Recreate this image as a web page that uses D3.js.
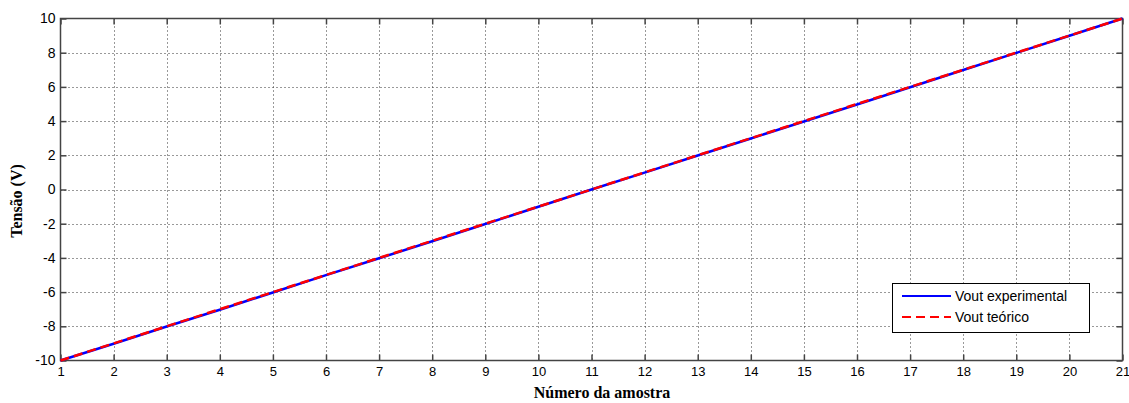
<!DOCTYPE html>
<html>
<head>
<meta charset="utf-8">
<script src="https://cdn.jsdelivr.net/npm/d3@7"></script>
<style>
  body { margin: 0; background: #fff; }
  svg { display: block; }
  .tick text { font-family: "Liberation Sans", Arial, sans-serif; font-size: 13px; fill: #000; }
</style>
</head>
<body>
<svg id="chart" width="1129" height="403"></svg>
<script>
// Sample indices and measured / theoretical output voltages
const amostras = d3.range(1, 22);
const voutExperimental = [-10, -9.02, -8.01, -7.03, -6.02, -5.01, -4.02, -3.03, -2.02, -1.01, 0,
                          0.99, 1.99, 2.98, 3.98, 4.97, 5.98, 6.99, 7.99, 8.99, 10];
const voutTeorico = [-10, -9, -8, -7, -6, -5, -4, -3, -2, -1, 0, 1, 2, 3, 4, 5, 6, 7, 8, 9, 10];
const xTicks = d3.range(1, 22);
const yTicks = [-10, -8, -6, -4, -2, 0, 2, 4, 6, 8, 10];
const legendLabels = ["Vout experimental", "Vout teórico"];

const svg = d3.select("#chart");
const m = { left: 60.5, right: 1122.5, top: 18.5, bottom: 360.5 };
const x = d3.scaleLinear().domain([1, 21]).range([m.left, m.right]);
const y = d3.scaleLinear().domain([-10, 10]).range([m.bottom, m.top]);
const axisColor = "#444";
const plain = d => String(d);   // hyphen-minus labels

// dotted grid
const grid = svg.append("g");
grid.selectAll("line.gx").data(xTicks.slice(1, -1)).join("line")
  .attr("x1", d => Math.round(x(d)) + 0.5).attr("x2", d => Math.round(x(d)) + 0.5)
  .attr("y1", m.top).attr("y2", m.bottom)
  .attr("stroke", "#333").attr("stroke-width", 1).attr("stroke-dasharray", "1,3");
grid.selectAll("line.gy").data(yTicks.slice(1, -1)).join("line")
  .attr("y1", d => Math.round(y(d)) + 0.5).attr("y2", d => Math.round(y(d)) + 0.5)
  .attr("x1", m.left).attr("x2", m.right)
  .attr("stroke", "#333").attr("stroke-width", 1).attr("stroke-dasharray", "1,3");

// axes with inward ticks on all four sides
const tl = 6;
const axBottom = svg.append("g").attr("transform", `translate(0,${m.bottom})`)
  .call(d3.axisBottom(x).tickValues(xTicks).tickSize(-tl).tickPadding(6).tickFormat(plain));
const axTop = svg.append("g").attr("transform", `translate(0,${m.top})`)
  .call(d3.axisTop(x).tickValues(xTicks).tickSize(-tl).tickFormat(""));
const axLeft = svg.append("g").attr("transform", `translate(${m.left},0)`)
  .call(d3.axisLeft(y).tickValues(yTicks).tickSize(-tl).tickPadding(5).tickFormat(plain));
const axRight = svg.append("g").attr("transform", `translate(${m.right},0)`)
  .call(d3.axisRight(y).tickValues(yTicks).tickSize(-tl).tickFormat(""));
[axBottom, axTop, axLeft, axRight].forEach(g => {
  g.selectAll(".domain").remove();
  g.selectAll(".tick line").attr("stroke", axisColor).attr("stroke-width", 1.5);
});
axLeft.selectAll(".tick text").style("font-size", "14px");
svg.append("rect").attr("x", m.left).attr("y", m.top)
  .attr("width", m.right - m.left).attr("height", m.bottom - m.top)
  .attr("fill", "none").attr("stroke", axisColor).attr("stroke-width", 1.5);

// series
const line = vals => d3.line().x((d, i) => x(amostras[i])).y(d => y(d))(vals);
svg.append("path").attr("d", line(voutExperimental))
  .attr("fill", "none").attr("stroke", "#0000ff").attr("stroke-width", 2.5);
svg.append("path").attr("d", line(voutTeorico))
  .attr("fill", "none").attr("stroke", "#ff0000").attr("stroke-width", 2.5)
  .attr("stroke-dasharray", "9,5");

// axis titles
svg.append("text").attr("x", 602).attr("y", 398)
  .attr("text-anchor", "middle")
  .style("font-family", "'Liberation Serif', 'Times New Roman', serif").style("font-weight", "bold").style("font-size", "16px")
  .text("Número da amostra");
svg.append("text").attr("transform", `translate(22,201) rotate(-90)`)
  .attr("text-anchor", "middle")
  .style("font-family", "'Liberation Serif', 'Times New Roman', serif").style("font-weight", "bold").style("font-size", "16px")
  .text("Tensão (V)");

// legend
const lg = svg.append("g");
lg.append("rect").attr("x", 892.5).attr("y", 283.5).attr("width", 197).attr("height", 49)
  .attr("fill", "#fff").attr("stroke", "#000").attr("stroke-width", 1);
const styles = [{ c: "#0000ff", dash: null }, { c: "#ff0000", dash: "9,5" }];
legendLabels.forEach((t, i) => {
  const ly = 296 + i * 21;
  lg.append("line").attr("x1", 902).attr("x2", 951).attr("y1", ly).attr("y2", ly)
    .attr("stroke", styles[i].c).attr("stroke-width", 2)
    .attr("stroke-dasharray", styles[i].dash);
  lg.append("text").attr("x", 955).attr("y", ly + 5)
    .style("font-family", "'Liberation Sans', Arial, sans-serif").style("font-size", "14px")
    .text(t);
});
</script>
</body>
</html>
